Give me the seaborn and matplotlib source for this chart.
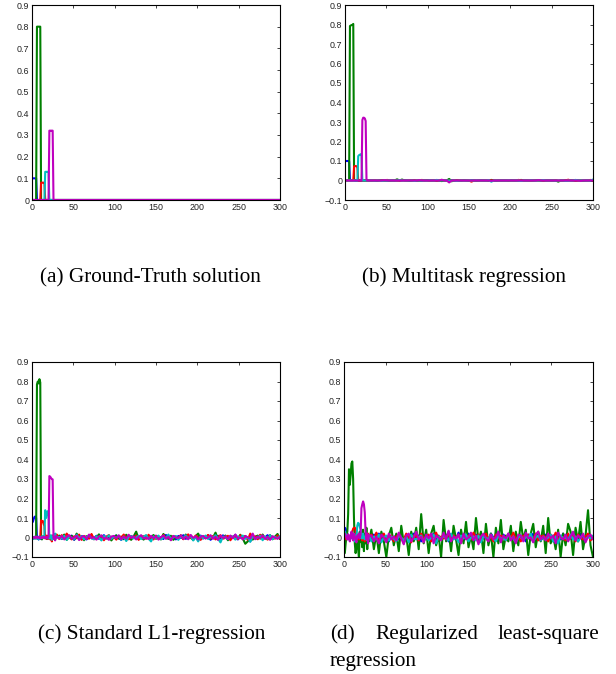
import matplotlib
matplotlib.use("Agg")
import matplotlib.pyplot as plt
import numpy as np
import pandas as pd
import seaborn as sns

# ---------------- data ----------------
head_idx = list(range(1, 31))          # samples 1..30
tail_idx = list(range(33, 301, 3))     # samples 33..300 (every 3rd)

series_names = ["blue", "green", "red", "cyan", "magenta"]
series_colors = ["#0000FF", "#008000", "#FF0000", "#00BFBF", "#BF00BF"]

# values in thousandths
# (a) ground truth
a_blue_head = [100, 100, 100, 100, 100, 0, 0, 0, 0, 0, 0, 0, 0, 0, 0, 0, 0, 0, 0, 0, 0, 0, 0, 0, 0, 0, 0, 0, 0, 0]
a_green_head = [0, 0, 0, 0, 0, 800, 800, 800, 800, 800, 0, 0, 0, 0, 0, 0, 0, 0, 0, 0, 0, 0, 0, 0, 0, 0, 0, 0, 0, 0]
a_red_head = [0, 0, 0, 0, 0, 0, 0, 0, 0, 0, 80, 80, 80, 80, 80, 0, 0, 0, 0, 0, 0, 0, 0, 0, 0, 0, 0, 0, 0, 0]
a_cyan_head = [0, 0, 0, 0, 0, 0, 0, 0, 0, 0, 0, 0, 0, 0, 0, 130, 130, 130, 130, 130, 0, 0, 0, 0, 0, 0, 0, 0, 0, 0]
a_magenta_head = [0, 0, 0, 0, 0, 0, 0, 0, 0, 0, 0, 0, 0, 0, 0, 0, 0, 0, 0, 0, 320, 320, 320, 320, 320, 0, 0, 0, 0, 0]
a_tail = [0] * 90

# (b) multitask regression
b_blue_head = [100, 100, 100, 100, 98, 0, 0, 0, 0, 0, 0, 0, 0, 0, 0, 0, 0, 0, 0, 0, 0, 0, 0, 0, 0, 0, 0, 0, 0, 0]
b_green_head = [0, 0, 0, 0, 2, 792, 795, 797, 798, 803, 2, 0, 0, 0, 0, 0, 0, 0, 0, 0, 0, 0, 0, 0, 0, 0, 0, 0, 0, 0]
b_red_head = [0, 0, 0, 0, 0, 0, 0, 0, 0, 0, 72, 74, 74, 73, 70, 0, 0, 0, 0, 0, 0, 0, 0, 0, 0, 0, 0, 0, 0, 0]
b_cyan_head = [0, 0, 0, 0, 0, 0, 0, 0, 0, 0, 0, 0, 0, 0, 0, 125, 130, 132, 135, 128, 0, 0, 0, 0, 0, 0, 0, 0, 0, 0]
b_magenta_head = [0, 0, 0, 0, 0, 0, 0, 0, 0, 0, 0, 0, 0, 0, 0, 0, 0, 0, 0, 0, 310, 322, 322, 318, 305, 5, 0, 0, 0, 0]
b_blue_tail = [0, 0, -2, 0, 0, 1, 0, 0, 0, -1, 0, 0, 0, 2, 0, 0, 0, 0, -2, 0,
               0, 1, 0, 0, 0, 0, 0, -1, 0, 0, 0, 0, 2, 0, 0, 0, 0, 0, 0, -2,
               0, 0, 0, 0, 1, 0, 0, 0, 0, 0, -2, 0, 0, 0, 0, 0, 1, 0, 0, 0,
               0, 0, 0, -1, 0, 0, 0, 2, 0, 0, 0, 0, 0, 0, 0, -2, 0, 0, 0, 1,
               0, 0, 0, 0, -1, 0, 0, 0, 0, 2]
b_green_tail = [0, 0, 0, 2, 0, 0, 0, -2, 0, 0, 6, 0, 5, 0, 0, -2, 0, 0, 0, 0,
                0, 0, 2, 0, 0, 0, 0, 0, -3, 0, 0, 8, -4, 0, 0, 0, 0, 2, 0, 0,
                0, 0, -2, 0, 0, 0, 0, 0, 3, 0, 0, 0, 0, 0, 0, -2, 0, 0, 0, 0,
                3, 0, 0, 0, 0, 0, 2, 0, 0, 0, 0, 0, 0, 0, 0, -6, 0, 0, 0, 0,
                2, 0, 0, 0, 0, -2, 0, 0, 0, 0]
b_red_tail = [0, 2, 0, 0, 0, 0, 3, 0, 0, 0, -2, 0, 0, 0, 0, 2, 0, 0, 0, 0,
              3, 0, 0, -2, 0, 0, 0, 0, 0, 0, 0, 0, 0, 0, 0, 2, 0, 0, 0, 0,
              -6, 0, 0, 0, 0, 0, 0, 2, 0, 0, 0, 0, 0, 0, 0, 0, 0, 0, 0, 3,
              0, 0, 0, 0, -2, 0, 0, 0, 0, 0, 0, 0, 0, 0, 2, 0, 0, 0, 0, 4,
              0, 0, 0, -2, 0, 0, 0, 0, 3, 0]
b_cyan_tail = [0, 0, 0, 0, -2, 0, 0, 0, 0, 0, 0, 2, 0, 0, 0, 0, 0, -2, 0, 0,
               0, 0, 0, 0, 0, 0, 3, 0, 0, 0, 0, 0, 0, 0, -2, 0, 0, 0, 0, 0,
               0, 0, 0, 0, 0, 0, 0, 2, -6, 0, 0, 0, 0, 0, 0, 0, 0, 0, 0, 0,
               -2, 0, 0, 0, 0, 0, 0, 0, 0, 2, 0, 0, 0, 0, 0, 0, 0, 0, -2, 0,
               0, 0, 3, 0, 0, 0, 0, 0, 0, 5]
b_magenta_tail = [0, 0, 0, 0, 0, 2, 0, 0, 0, 0, 0, 0, 0, 0, 0, 0, 0, 0, 0, 2,
                  0, 0, 0, 0, 0, 0, 0, 0, 4, 0, 0, -10, 0, 0, 0, 0, 0, 0, 0, 0,
                  0, 0, 0, 0, 0, 0, 0, 0, -2, 0, 0, 0, 0, 0, 0, 0, 0, 0, 0, 0,
                  0, 0, 0, 0, 0, 0, 0, 2, 0, 0, 0, 0, 0, 0, 0, 0, 0, 0, 0, 0,
                  0, 0, 0, 0, -2, 0, 0, 0, 0, 0]

# (c) standard L1 regression
c_blue_head = [80, 95, 105, 108, 100, -5, 0, -10, 5, 0, -8, 0, 5, -3, 0, 6, -4, 0, 8, -5, 0, 3, -6, 10, -2, 0, -8, 5, 0, 3]
c_green_head = [0, -3, 2, -5, 0, 785, 800, 790, 812, 795, 5, -10, 0, 6, -3, 0, 4, -8, 2, 0, -5, 10, -2, 0, -6, 3, 8, -4, 15, 0]
c_red_head = [0, -5, 3, 0, -4, 2, 0, -6, 3, 0, 88, 80, 85, 70, 60, -5, 0, 10, -8, 3, 0, -10, 5, -20, 8, 12, 0, -6, 3, 15]
c_cyan_head = [0, -8, 4, 0, -5, 3, 0, -10, 5, -3, 0, 6, -4, 0, 8, 140, 100, 125, 135, 120, -5, 3, 10, -12, 0, 8, -5, 20, -6, 3]
c_magenta_head = [0, 2, -3, 0, 5, -2, 0, 3, -4, 0, 2, -3, 0, 4, -2, 0, 3, -5, 0, 2, 315, 312, 305, 300, 298, -5, 0, -15, 8, 3]
c_blue_tail = [5, -8, 12, -3, 0, 10, -12, 4, -6, 8, 2, -10, 6, 0, -4, 9, -7, 3, 12, -5,
               0, -8, 5, 10, -3, -12, 6, 1, -6, 8, -2, 11, -9, 4, 0, -5, 7, -11, 3, 9,
               -4, 2, -8, 13, -6, 0, 5, -10, 8, -3, 12, -7, 1, 6, -9, 4, -2, 10, -5, 0,
               7, -12, 3, -4, 9, -6, 11, -1, -8, 5, 0, 14, -10, 3, -5, 8, -3, -20, 6, 2,
               -7, 10, -4, 0, 12, -9, 5, -2, 8, -6]
c_green_tail = [10, -5, 15, -12, 3, 8, -10, 20, -6, 2, -14, 7, -3, 12, -8, 0, 16, -10, 5, -4,
                9, -15, 2, 11, -6, 4, -9, 14, -2, -12, 6, 30, -8, 3, -11, 10, -4, 0, 13, -7,
                5, -10, 18, -3, -6, 9, -12, 4, 0, 11, -8, 15, -5, 2, -13, 7, 20, -9, 3, -4,
                12, -6, 0, 25, -10, 5, -3, 10, -14, 6, -2, 9, -7, 14, -5, -32, -20, 8, -11, 3,
                10, -6, 15, -4, 0, 12, -9, 5, 18, -8]
c_red_tail = [-8, 12, -5, 20, 3, -10, 6, -4, 15, -12, 8, 0, -6, 18, -9, 4, -2, 10, -14, 5,
              12, -7, 3, -11, 8, 0, 15, -5, -9, 6, -3, 10, -12, 4, 7, -6, 14, -2, -10, 9,
              0, -8, 12, -4, 5, -13, 8, 2, -6, 11, -9, 4, 16, -3, -7, 10, -1, -12, 6, 0,
              13, -5, 8, -10, 3, 12, -6, -2, 9, -14, 5, 0, -8, 11, -4, 7, -12, 20, -3, 6,
              -9, 14, -5, 2, -11, 8, 0, -6, 10, -4]
c_cyan_tail = [3, -6, 9, -12, 5, 0, -8, 14, -4, 7, -10, 2, 12, -5, -9, 6, 0, -15, 8, -3,
               11, -7, 4, -2, 10, -12, 5, -18, 3, 7, -5, 0, 9, -8, 4, 12, -6, -20, 6, -3,
               10, -9, 2, -4, 15, -7, 0, 8, -12, 5, -3, 11, -6, 9, -15, 2, -20, 7, -4, 10,
               -8, 3, -2, 12, -6, -25, 5, 0, -9, 8, 4, -11, 6, -3, 10, -7, 2, -22, 9, -5,
               0, 8, -14, 5, -6, 11, -9, 3, -4, 7]
c_magenta_tail = [-5, 8, -10, 4, 12, -6, 0, 9, -13, 3, 7, -8, 15, -4, 2, -11, 6, 10, -7, 0,
                  -12, 5, 8, -3, 11, -9, 4, -6, 14, -2, 6, -10, 3, 12, -5, 0, -8, 9, -4, 7,
                  -11, 2, 10, -6, 4, -14, 8, 0, -3, 11, -7, 5, -9, 13, -2, 6, -10, 3, 8, -5,
                  0, 12, -7, 4, -12, 9, -3, 6, -8, 10, -4, 15, -6, 2, -10, 7, 0, -5, 20, -9,
                  5, -3, 11, -8, 4, -12, 6, 0, -7, 3]

# (d) regularized least-square regression
d_blue_head = [50, 45, 30, 20, 10, 0, -10, 5, 15, -5, 10, -10, 0, 20, 5, -15, 10, 0, -5, 15, 5, -10, 20, 0, -15, 10, -5, 15, 0, -10]
d_green_head = [-80, -30, 10, 30, 120, 350, 270, 320, 380, 390, 300, 100, -30, -80, -40, 10, -60, -100, 30, -20, 0, -50, 40, -70, 20, -30, 50, -60, 10, -20]
d_red_head = [10, 0, -10, 15, 5, -5, 10, 0, 20, 30, 45, 50, 50, 40, 10, -5, 15, -10, 5, 0, 20, -15, 10, 0, -20, 5, 15, -10, 20, 0]
d_cyan_head = [30, 20, 10, 0, -10, 5, -5, 10, 0, 15, -10, 5, -20, 10, 0, 60, 75, 70, 55, 40, 10, -5, 20, 0, -10, 5, 15, -15, 0, 10]
d_magenta_head = [20, 10, 0, -10, 15, 5, -20, 10, 30, 0, -15, 20, 5, -10, -25, 10, 0, 20, -5, 15, 150, 170, 185, 170, 130, 30, -10, 20, -30, 10]
d_blue_tail = [-10, 15, -5, 20, -15, 5, 0, -20, 10, -5, 15, -10, 5, -25, 10, 0, -15, 20, -5, 10,
               -20, 5, 15, -10, 0, 20, -15, 5, -5, 10, 15, -20, 0, 10, -10, 25, -5, -15, 5, 20,
               -10, 0, 15, -20, 10, -5, 5, -15, 20, 0, -5, 10, -20, 15, 0, -10, 25, -5, 5, -15,
               10, 0, -20, 15, -5, 20, -10, 5, -15, 0, 15, -5, 10, -20, 5, 0, -10, 20, -15, 5,
               -5, 15, 0, -10, 20, -20, 5, 10, -5, 0]
d_green_tail = [40, -60, 20, -80, 30, -20, -100, 10, 50, -40, 20, -70, 60, -30, 10, -90, 30, -20, 50, -60,
                120, -30, 40, -80, 20, 60, -40, 10, -100, 90, -20, 30, -70, 60, -10, -90, 40, -30, 80, -50,
                10, -60, 100, -20, 30, -80, 70, -40, 20, -100, 50, -30, 90, -60, 10, -20, 60, -70, 30, -40,
                80, -10, 40, -90, 20, 70, -50, 30, -20, 60, -80, 100, -30, 10, -60, 40, -100, 20, -40, 70,
                30, -90, 50, -20, 80, -60, 10, 140, -40, -100]
d_red_tail = [15, -5, 25, -10, 5, 20, -15, 0, 10, -20, 5, 15, -5, -10, 20, 0, -25, 10, 5, -15,
              20, -5, 0, 15, -20, 10, 25, -10, 5, -5, 0, 20, -15, 10, -5, 15, -20, 5, 0, 10,
              -10, 25, -5, 15, -15, 0, 20, -10, 5, -20, 15, -5, 10, 0, -15, 20, -5, 25, -10, 5,
              -20, 10, 0, 15, -5, -10, 20, -15, 5, 10, 0, -20, 15, -5, 25, -10, 5, 0, -15, 20,
              -5, 10, -20, 15, 0, -10, 5, 20, -15, 0]
d_cyan_tail = [-20, 5, -10, 15, -25, 0, 10, -15, 5, -5, -20, 10, 0, -15, 5, -25, 15, -5, -10, 0,
               10, -20, 5, -15, 0, 15, -30, 5, -10, 10, -5, -15, 20, -10, 0, -25, 10, -5, 15, -20,
               0, 5, -15, 10, -25, 5, 0, -10, 15, -5, -20, 10, -5, 0, -15, 20, -10, 5, -25, 0,
               10, -15, 5, -5, 20, -20, 0, 10, -15, 5, -10, 0, 15, -20, 5, -30, 10, -5, 0, -15,
               15, -10, 5, -20, 0, 10, -15, 5, -5, 10]
d_magenta_tail = [10, -20, 5, -30, 15, 0, -25, 20, -10, 5, -15, 25, -5, -35, 10, 20, -20, 0, 30, -10,
                  5, -25, 15, -5, 20, -30, 10, 0, -15, 25, -10, 35, -20, 5, -5, 15, -30, 20, -10, 0,
                  25, -15, 10, -35, 5, 20, -5, -20, 15, -10, 0, 30, -25, 10, -5, 20, -15, 5, -30, 15,
                  10, -20, 25, -5, 0, -25, 15, 30, -10, 5, -15, 20, -5, 10, -30, 25, 0, -10, 15, -20,
                  5, 30, -15, 10, -5, 20, -25, 5, 15, -10]

x_ticks = [0, 50, 100, 150, 200, 250, 300]
y_ticks_a = [0, 0.1, 0.2, 0.3, 0.4, 0.5, 0.6, 0.7, 0.8, 0.9]
y_ticks_bcd = [-0.1, 0, 0.1, 0.2, 0.3, 0.4, 0.5, 0.6, 0.7, 0.8, 0.9]

panel_series = {
    "a": [(a_blue_head, a_tail), (a_green_head, a_tail), (a_red_head, a_tail),
          (a_cyan_head, a_tail), (a_magenta_head, a_tail)],
    "b": [(b_blue_head, b_blue_tail), (b_green_head, b_green_tail), (b_red_head, b_red_tail),
          (b_cyan_head, b_cyan_tail), (b_magenta_head, b_magenta_tail)],
    "c": [(c_blue_head, c_blue_tail), (c_green_head, c_green_tail), (c_red_head, c_red_tail),
          (c_cyan_head, c_cyan_tail), (c_magenta_head, c_magenta_tail)],
    "d": [(d_blue_head, d_blue_tail), (d_green_head, d_green_tail), (d_red_head, d_red_tail),
          (d_cyan_head, d_cyan_tail), (d_magenta_head, d_magenta_tail)],
}

rows = []
for panel, lst in panel_series.items():
    for name, (head, tail) in zip(series_names, lst):
        for xv, yv in zip(head_idx + tail_idx, head + tail):
            rows.append((panel, name, xv, yv / 1000.0))
df = pd.DataFrame(rows, columns=["panel", "series", "x", "y"])

# ---------------- figure ----------------
sns.set_style("white")
plt.rcParams["font.family"] = ["Liberation Sans", "DejaVu Sans"]

W, H = 616, 674
fig = plt.figure(figsize=(W / 100, H / 100), dpi=100)

def px_axes(left, top, right, bottom):
    return fig.add_axes([left / W, 1 - bottom / H, (right - left) / W, (bottom - top) / H])

axes_px = {
    "a": (32, 5, 280, 200),
    "b": (345, 5, 593, 200),
    "c": (32, 362, 280, 557),
    "d": (344, 362, 593, 557),
}
palette = dict(zip(series_names, series_colors))

for panel, box in axes_px.items():
    ax = px_axes(*box)
    sub = df[df.panel == panel]
    sns.lineplot(data=sub, x="x", y="y", hue="series", hue_order=series_names,
                 palette=palette, estimator=None, sort=False, linewidth=1.5,
                 legend=False, ax=ax)
    ax.set_xlim(0, 300)
    yt = y_ticks_a if panel == "a" else y_ticks_bcd
    ax.set_ylim(yt[0], yt[-1])
    ax.set_xticks(x_ticks)
    ax.set_xticklabels([f"{v:g}" for v in x_ticks])
    ax.set_yticks(yt)
    ax.set_yticklabels([f"{v:g}".replace("-", "\u2212") for v in yt])
    ax.set_xlabel("")
    ax.set_ylabel("")
    ax.tick_params(direction="in", top=True, right=True, length=2.5, width=0.6,
                   labelsize=6.4, pad=2, colors="#222222", labelcolor="#222222")
    for sp in ax.spines.values():
        sp.set_visible(True)
        sp.set_color("black")
        sp.set_linewidth(0.8)
    ax.set_facecolor("white")

cap_kw = dict(fontfamily="Liberation Serif", fontsize=15.3, va="baseline", color="black")
fig.text(40 / W, 1 - 282 / H, "(a) Ground-Truth solution", ha="left", **cap_kw)
fig.text(362 / W, 1 - 282 / H, "(b) Multitask regression", ha="left", **cap_kw)
fig.text(38 / W, 1 - 639 / H, "(c) Standard L1-regression", ha="left", **cap_kw)
fig.text(330 / W, 1 - 639 / H, "(d)", ha="left", **cap_kw)
fig.text(375 / W, 1 - 639 / H, "Regularized", ha="left", **cap_kw)
fig.text(599 / W, 1 - 639 / H, "least-square", ha="right", **cap_kw)
fig.text(330 / W, 1 - 666 / H, "regression", ha="left", **cap_kw)

fig.savefig("out.png", dpi=100, facecolor="white")
